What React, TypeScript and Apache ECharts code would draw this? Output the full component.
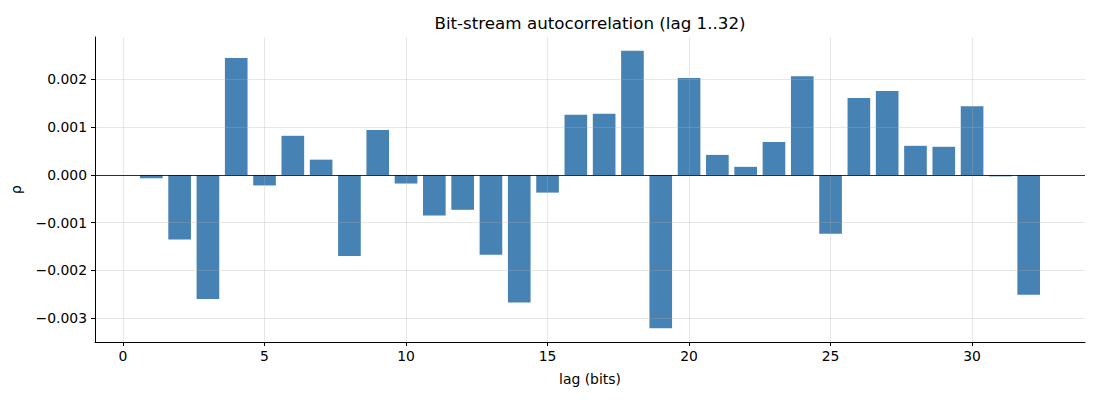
import React, { useEffect, useRef } from "react";
import * as echarts from "echarts";

const lags = [1,2,3,4,5,6,7,8,9,10,11,12,13,14,15,16,17,18,19,20,21,22,23,24,25,26,27,28,29,30,31,32];
const rho = [
  -0.00007, -0.00135, -0.0026, 0.00245, -0.00022, 0.00082, 0.00032, -0.0017,
  0.00094, -0.00018, -0.00085, -0.00073, -0.00167, -0.00267, -0.00037, 0.00126,
  0.00128, 0.0026, -0.00321, 0.00203, 0.00042, 0.00017, 0.00069, 0.00207,
  -0.00123, 0.00161, 0.00176, 0.00061, 0.00059, 0.00144, -0.00003, -0.00251,
];
const xTicks = [0, 5, 10, 15, 20, 25, 30];
const yTicks = [-0.003, -0.002, -0.001, 0, 0.001, 0.002];
const TITLE = "Bit-stream autocorrelation (lag 1..32)";

const FONT = "DejaVu Sans";
const FS = 13.9;
const fmtY = (v: number) => {
  const s = Math.abs(v).toFixed(3);
  return v < -1e-12 ? "\u2212" + s : s;
};

export default function App() {
  const ref = useRef<HTMLDivElement>(null);
  useEffect(() => {
    document.body.style.margin = "0";
    const chart = echarts.init(ref.current!, null, { renderer: "svg" });
    const data = lags.map((l, i) => [l, rho[i]]);
    chart.setOption({
      animation: false,
      backgroundColor: "#ffffff",
      graphic: [
        {
          type: "text",
          x: 590,
          y: 23,
          style: {
            text: TITLE,
            fontFamily: FONT,
            fontSize: 16.7,
            fill: "#000",
            align: "center",
            verticalAlign: "middle",
          },
        },
      ],
      grid: { left: 95, right: 15, top: 37, bottom: 58 },
      xAxis: {
        type: "value",
        min: -0.99,
        max: 33.99,
        z: 3,
        name: "lag (bits)",
        nameLocation: "middle",
        nameGap: 30,
        nameTextStyle: { fontFamily: FONT, fontSize: FS, color: "#000" },
        axisLine: { show: true, onZero: false, lineStyle: { color: "#000", width: 1 } },
        axisTick: { show: true, length: 4, customValues: xTicks, lineStyle: { color: "#000" } },
        axisLabel: {
          customValues: xTicks,
          margin: 7,
          fontFamily: FONT,
          fontSize: FS,
          color: "#000",
          formatter: (v: number) => String(v),
        },
        splitLine: { show: true, lineStyle: { color: "rgba(176,176,176,0.3)", width: 1 } },
      },
      yAxis: {
        type: "value",
        min: -0.0035,
        max: 0.00289,
        z: 3,
        name: "\u03c1",
        nameLocation: "middle",
        nameGap: 72,
        nameRotate: 90,
        nameTextStyle: { fontFamily: FONT, fontSize: FS, color: "#000" },
        axisLine: { show: true, onZero: false, lineStyle: { color: "#000", width: 1 } },
        axisTick: { show: true, length: 4, customValues: yTicks, lineStyle: { color: "#000" } },
        axisLabel: {
          customValues: yTicks,
          margin: 8,
          fontFamily: FONT,
          fontSize: FS,
          color: "#000",
          formatter: (v: number) => fmtY(v),
        },
        splitLine: { show: true, lineStyle: { color: "rgba(176,176,176,0.3)", width: 1 } },
      },
      series: [
        {
          type: "custom",
          z: 2,
          data,
          encode: { x: 0, y: 1 },
          renderItem: (params: any, api: any) => {
            const x = api.value(0);
            const y = api.value(1);
            const p1 = api.coord([x - 0.4, y]);
            const p2 = api.coord([x + 0.4, 0]);
            return {
              type: "rect",
              shape: {
                x: p1[0],
                y: Math.min(p1[1], p2[1]),
                width: p2[0] - p1[0],
                height: Math.abs(p2[1] - p1[1]),
              },
              style: { fill: "#4682b4" },
            };
          },
        },
        {
          type: "line",
          z: 5,
          data: [],
          markLine: {
            silent: true,
            symbol: ["none", "none"],
            label: { show: false },
            lineStyle: { color: "#000", width: 0.8, type: "solid" },
            data: [{ yAxis: 0 }],
          },
        },
      ],
    });
    return () => chart.dispose();
  }, []);
  return <div ref={ref} style={{ width: 1100, height: 400 }} />;
}
